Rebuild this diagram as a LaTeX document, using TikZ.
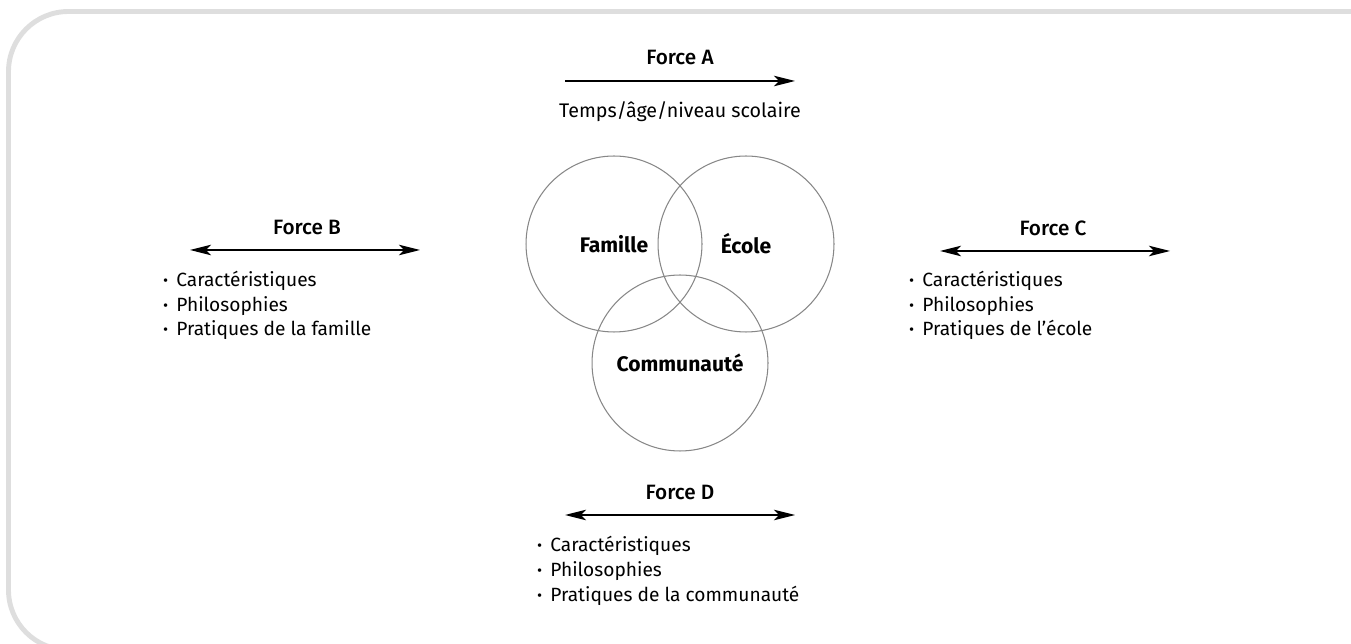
\documentclass[tikz,border=0pt]{standalone}
\usepackage{fontspec}
\setmainfont{Fira Sans}
\newfontfamily\medfont{Fira Sans Medium}
\usetikzlibrary{arrows.meta,positioning}
\tikzstyle{every force} = []
\tikzstyle{force} = [draw, line width=0.8pt, {Stealth[length=12pt,width=6pt,inset=3pt]}-{Stealth[length=12pt,width=6pt,inset=3pt]}, every force]
\tikzstyle{trend} = [draw, line width=0.8pt, -{Stealth[length=12pt,width=6pt,inset=3pt]}, every force]
\definecolor{frame}{RGB}{222,222,222}
\definecolor{ring}{RGB}{135,135,135}
\newcommand{\dotitem}{\makebox[0.26cm][l]{\bfseries ·}}

\begin{document}
\begin{tikzpicture}[x=0.02cm, y=-0.02cm, font=\fontsize{11.2}{14.2}\selectfont]
        \tikzstyle{title} = [font=\medfont\fontsize{11.8}{13}\selectfont, inner sep=0]
        \tikzstyle{sphere} = [circle, draw=ring, line width=0.6pt, minimum size=3.52cm, inner sep=0, font=\bfseries\fontsize{12}{14}\selectfont]
        \tikzstyle{items} = [align=left, anchor=base west, inner sep=0, font=\fontsize{10.9}{14.2}\selectfont]
        \useasboundingbox (0,0) rectangle (1351,644);
        \begin{scope}
            \clip (0,0) rectangle (1351,644);
            \draw[frame, line width=2.8pt, rounded corners=1.2cm] (8.5,11.5) rectangle (1420,650);
        \end{scope}

        % the three spheres
        \node[sphere] (famille) at (614,244) {Famille};
        \node[sphere] (ecole) at (746,244) {École};
        \node[sphere] (communaute) at (680,363) {Communauté};

        % force A
        \node[title] (forceA) at (680,58) {Force A};
        \coordinate (aL) at (565,81);
        \coordinate (aR) at (795,81);
        \draw[trend] (aL) -- (aR);
        \node (temps) at (680,112) {Temps/âge/niveau scolaire};

        % force B
        \node[title] (forceB) at (307,227) {Force B};
        \coordinate (bL) at (190,250);
        \coordinate (bR) at (420,250);
        \draw[force] (bL) -- (bR);
        \node[items] (listB) at (163,336) {\dotitem Caractéristiques\\ \dotitem Philosophies\\ \dotitem Pratiques de la famille};

        % force C
        \node[title] (forceC) at (1053,228) {Force C};
        \coordinate (cL) at (940,251);
        \coordinate (cR) at (1170,251);
        \draw[force] (cL) -- (cR);
        \node[items] (listC) at (909,336) {\dotitem Caractéristiques\\ \dotitem Philosophies\\ \dotitem Pratiques de l’école};

        % force D
        \node[title] (forceD) at (680,492) {Force D};
        \coordinate (dL) at (565,515);
        \coordinate (dR) at (795,515);
        \draw[force] (dL) -- (dR);
        \node[items] (listD) at (537,601) {\dotitem Caractéristiques\\ \dotitem Philosophies\\ \dotitem Pratiques de la communauté};

    \end{tikzpicture}
\end{document}
